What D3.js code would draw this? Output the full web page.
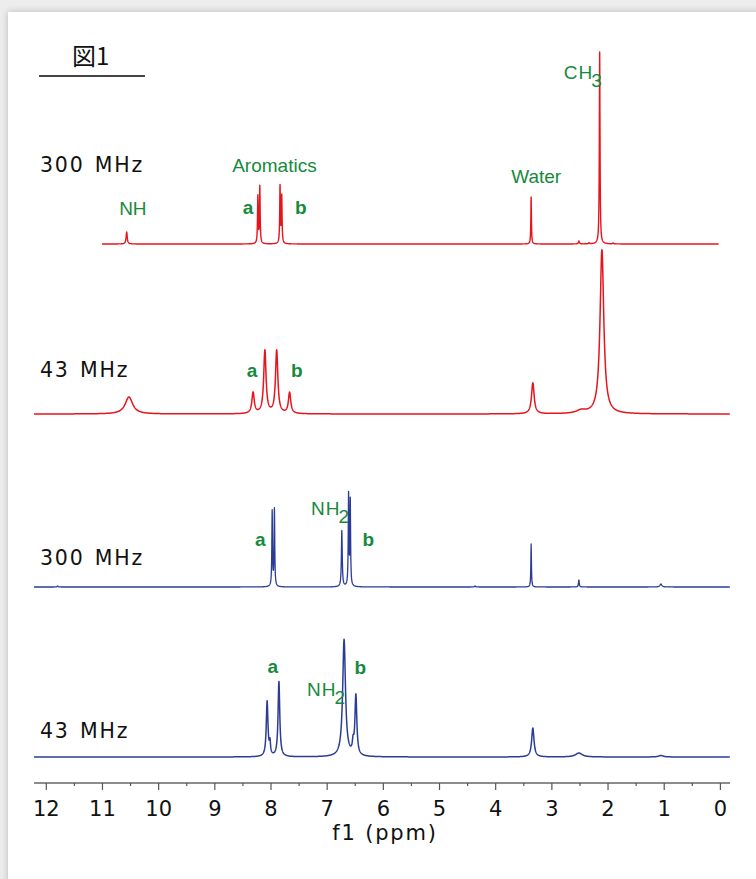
<!DOCTYPE html>
<html>
<head>
<meta charset="utf-8">
<script src="https://cdn.jsdelivr.net/npm/d3@7"></script>
<style>
html, body { margin: 0; padding: 0; width: 756px; height: 879px; overflow: hidden; background: #ededed; }
#card { position: absolute; left: 8px; top: 12px; width: 770px; height: 890px; background: #fff; box-shadow: 0 0 7px rgba(0,0,0,0.22); }
#chart { position: absolute; left: 0; top: 0; }
</style>
</head>
<body>
<div id="card"></div>
<div id="chart"></div>
<script>
// peaks: [ppm, height, half width at half height (ppm)]
var redHigh = [
    [10.56, 12, 0.012], [8.225, 47, 0.007], [8.19, 57, 0.007], [7.83, 57, 0.007], [7.80, 47, 0.007],
    [3.36, 47, 0.006], [2.51, 3, 0.01], [2.33, 1, 0.01], [2.14, 192, 0.007], [1.90, 1, 0.01]
];
var redLow = [
    [10.52, 17, 0.08], [8.31, 21, 0.025], [8.10, 63, 0.025], [7.89, 63, 0.025], [7.66, 21, 0.025],
    [3.33, 31, 0.028], [2.47, 3, 0.1], [2.10, 164, 0.04]
];
var blueHigh = [
    [11.79, 1, 0.01], [7.97, 75, 0.007], [7.93, 77, 0.007], [6.73, 56, 0.009], [6.61, 91, 0.007],
    [6.58, 85, 0.007], [4.36, 1, 0.01], [3.36, 43, 0.006], [2.51, 7, 0.008], [1.05, 3, 0.02]
];
var blueLow = [
    [8.06, 55, 0.018], [8.01, 12, 0.012], [7.85, 75, 0.018], [6.69, 117, 0.03], [6.53, 10, 0.015],
    [6.48, 60, 0.02], [3.33, 29, 0.025], [2.51, 4, 0.07], [1.05, 1.5, 0.05]
];
// labels: [text, subscript, ppm, height above baseline]
var redHighNotes = [["NH", "", 10.45, 29], ["Aromatics", "", 7.93, 72], ["a", "", 8.40, 30], ["b", "", 7.46, 30],
    ["Water", "", 3.27, 61], ["CH", "3", 2.78, 165]];
var redLowNotes = [["a", "", 8.33, 37], ["b", "", 7.53, 37]];
var blueHighNotes = [["a", "", 8.18, 41], ["NH", "2", 7.28, 72], ["b", "", 6.26, 41]];
var blueLowNotes = [["a", "", 7.96, 84], ["NH", "2", 7.35, 61], ["b", "", 6.40, 83]];
var majorTicks = d3.range(0, 13);
var minorTicks = d3.range(0.5, 12, 1);

var W = 756, H = 879;
var red = "#e8141c", blue = "#2b3c96", green = "#168a3c";

var spectra = [
    { peaks: redHigh, notes: redHighNotes, color: red, base: 244, from: 11.0, to: 0.02, lw: 1.4, label: "300 MHz", labelY: 172 },
    { peaks: redLow, notes: redLowNotes, color: red, base: 414, from: 12.21, to: -0.18, lw: 1.5, label: "43 MHz", labelY: 377 },
    { peaks: blueHigh, notes: blueHighNotes, color: blue, base: 587, from: 12.21, to: -0.18, lw: 1.3, label: "300 MHz", labelY: 565 },
    { peaks: blueLow, notes: blueLowNotes, color: blue, base: 757, from: 12.21, to: -0.18, lw: 1.5, label: "43 MHz", labelY: 738 }
];

var svg = d3.select("#chart").append("svg").attr("width", W).attr("height", H);

var x = d3.scaleLinear().domain([12.21, -0.18]).range([34, 730]);

function lorentz(peaks, p) {
    var s = 0;
    peaks.forEach(function (k) { s += k[1] * k[2] * k[2] / ((p - k[0]) * (p - k[0]) + k[2] * k[2]); });
    return s;
}

var line = d3.line().x(function (d) { return x(d[0]); }).y(function (d) { return d[2](d[1]); });

spectra.forEach(function (s) {
    var y = d3.scaleLinear().domain([0, 200]).range([s.base, s.base - 200]);
    var grid = d3.range(s.from, s.to, -0.003).concat(s.peaks.map(function (k) { return k[0]; }));
    grid.sort(function (a, b) { return b - a; });
    var pts = grid.map(function (p) { return [p, lorentz(s.peaks, p), y]; });
    svg.append("path")
        .attr("d", line(pts))
        .attr("fill", "none")
        .attr("stroke", s.color)
        .attr("stroke-width", s.lw)
        .attr("stroke-linejoin", "round");

    svg.append("text")
        .attr("x", 40).attr("y", s.labelY)
        .attr("font-family", "DejaVu Sans").attr("font-size", 20.5)
        .attr("letter-spacing", 1.8)
        .attr("word-spacing", 2)
        .attr("fill", "#111")
        .text(s.label);

    var note = svg.selectAll(null).data(s.notes).enter().append("text")
        .attr("x", function (d) { return x(d[2]); })
        .attr("y", function (d) { return y(d[3]); })
        .attr("text-anchor", function (d) { return d[1] ? "start" : "middle"; })
        .attr("font-family", "Liberation Sans")
        .attr("font-size", 19)
        .attr("font-weight", function (d) { return d[0].length == 1 ? "bold" : "normal"; })
        .attr("letter-spacing", function (d) { return d[1] ? 1 : 0; })
        .attr("fill", green);
    note.append("tspan").text(function (d) { return d[0]; });
    note.filter(function (d) { return d[1]; }).append("tspan")
        .attr("dx", -2).attr("dy", 8)
        .text(function (d) { return d[1]; });
});

// axis
var axisY = 783;
var gAxis = svg.append("g").attr("transform", "translate(0," + axisY + ")");
gAxis.append("line").attr("x1", 34).attr("x2", 730).attr("stroke", "#666").attr("stroke-width", 1.5);
var major = gAxis.append("g").call(d3.axisBottom(x).tickValues(majorTicks).tickSize(7).tickSizeOuter(0).tickPadding(11).tickFormat(d3.format("d")));
major.select(".domain").remove();
major.selectAll("line").attr("stroke", "#555").attr("stroke-width", 1.2);
major.selectAll("text").attr("font-family", "DejaVu Sans").attr("font-size", 21).attr("fill", "#111");
var minor = gAxis.append("g").call(d3.axisBottom(x).tickValues(minorTicks).tickSize(3).tickFormat(""));
minor.select(".domain").remove();
minor.selectAll("line").attr("stroke", "#555").attr("stroke-width", 1.2);

svg.append("text")
    .attr("x", 385).attr("y", 840)
    .attr("text-anchor", "middle")
    .attr("font-family", "DejaVu Sans").attr("font-size", 21)
    .attr("letter-spacing", 1.8)
    .attr("fill", "#111")
    .text("f1 (ppm)");

// figure title
svg.append("text")
    .attr("x", 72).attr("y", 65)
    .attr("font-family", "'Noto Sans CJK JP', 'Noto Sans CJK SC', sans-serif").attr("font-size", 24)
    .attr("fill", "#111")
    .text("図1");
svg.append("line").attr("x1", 39).attr("x2", 145).attr("y1", 76).attr("y2", 76)
    .attr("stroke", "#444").attr("stroke-width", 2);
</script>
</body>
</html>
